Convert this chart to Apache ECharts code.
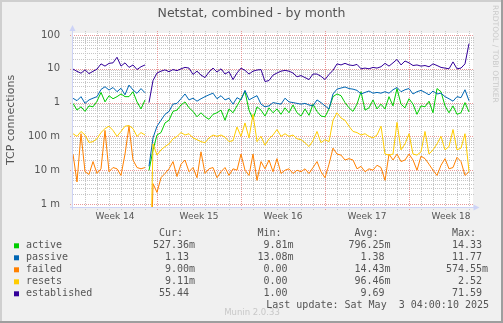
<!DOCTYPE html>
<html>
<head>
<meta charset="utf-8">
<title>Netstat, combined - by month</title>
<script src="https://cdn.jsdelivr.net/npm/echarts@6/dist/echarts.min.js"></script>
<style>
  html, body { margin: 0; padding: 0; background: #F0F0F0; }
  #chart { width: 503px; height: 323px; }
</style>
</head>
<body>
<div id="chart"></div>
<script>
// One sample every 8 hours, from the start of week 14 onwards.
const SAMPLE_HOURS = 8;
const OUTAGE_HOUR = 148;      // collection stopped for a few hours here
const HOURS_SHOWN = 800;

const activeValues = [
  0.95, 0.6, 0.75, 0.55, 0.8, 0.75, 1.1, 2.0, 1.05, 1.6, 1.3, 1.5, 1.8, 1.5, 1.5, 2.1, 1.05, 0.65, 1.2,
  0.0098, 0.04, 0.11, 0.13, 0.25, 0.3, 0.55, 0.6, 0.85, 1.05, 0.7, 0.55, 0.38,
  0.5, 0.38, 0.32, 0.45, 0.5, 0.6, 0.3, 0.65, 0.5, 0.8, 1.3, 2.1, 0.6, 0.32, 0.75, 0.6, 0.4,
  0.7, 0.5, 0.65, 0.45, 0.7, 0.5, 0.85, 0.5, 0.4, 0.65, 0.42, 0.9, 0.55, 0.4, 0.38, 0.65, 1.5,
  1.8, 1.6, 1.0, 0.7, 0.55, 0.9, 2.1, 0.6, 0.7, 1.2, 0.65, 0.9, 0.65, 1.5, 0.8, 2.6, 0.9,
  0.7, 1.3, 0.9, 0.45, 0.8, 0.75, 1.1, 0.5, 2.6, 2.1, 0.8, 0.5, 0.8, 0.45, 0.5, 1.0, 0.52736
];
const passiveValues = [
  1.34, 1.14, 1.5, 0.95, 1.2, 1.35, 1.5, 2.45, 2.95, 2.35, 2.8, 2.1, 2.65, 1.7, 3.3, 2.36, 1.88, 2.6, 1.95,
  0.01308, 0.09, 0.2, 0.3, 0.45, 0.55, 0.9, 0.95, 1.3, 1.8, 1.2, 1.35, 1.1, 1.3, 1.5,
  1.7, 1.9, 1.3, 1.6, 1.2, 1.35, 0.9, 1.4, 1.2, 2.3, 1.2, 1.4, 1.6, 0.9, 0.75, 0.8,
  1.0, 0.95, 0.9, 1.35, 1.05, 1.0, 0.95, 0.9, 0.95, 0.85, 0.8, 1.2, 1.0, 0.8, 0.65, 1.8,
  2.5, 2.7, 2.9, 2.6, 2.5, 2.3, 1.8, 2.0, 2.2, 1.9, 2.0, 1.9, 2.1, 1.9, 2.4, 2.8, 2.1,
  2.4, 2.6, 1.8, 2.1, 2.3, 2.0, 1.7, 2.2, 1.8, 1.9, 1.5, 1.3, 1.1, 1.5, 1.4, 2.4, 1.13
];
const failedValues = [
  0.03, 0.0045, 0.12, 0.009, 0.0075, 0.018, 0.008, 0.011, 0.15, 0.009, 0.012, 0.011, 0.007, 0.03, 0.2, 0.02, 0.012, 0.011, 0.012,
  0, 0.004, 0.0022, 0.006, 0.008, 0.011, 0.018, 0.0065, 0.015, 0.02, 0.009, 0.012, 0.006, 0.035, 0.008,
  0.011, 0.012, 0.006, 0.009, 0.012, 0.007, 0.011, 0.01, 0.03, 0.01, 0.007, 0.03, 0.005, 0.018, 0.011, 0.02,
  0.009, 0.022, 0.008, 0.01, 0.011, 0.008, 0.01, 0.009, 0.011, 0.008, 0.012, 0.018, 0.009, 0.006, 0.015, 0.045,
  0.03, 0.028, 0.02, 0.022, 0.02, 0.011, 0.013, 0.009, 0.011, 0.01, 0.014, 0.012, 0.005, 0.03, 0.02, 0.03, 0.018,
  0.02, 0.03, 0.02, 0.01, 0.026, 0.022, 0.015, 0.01, 0.007, 0.014, 0.022, 0.011, 0.012, 0.024, 0.018, 0.007, 0.009
];
const resetsValues = [
  0.12, 0.1, 0.14, 0.11, 0.066, 0.07, 0.085, 0.13, 0.17, 0.2, 0.15, 0.1, 0.14, 0.2, 0.21, 0.17, 0.1, 0.13, 0.11,
  0, 0.06, 0.028, 0.04, 0.05, 0.06, 0.085, 0.1, 0.13, 0.11, 0.12, 0.09, 0.08, 0.07, 0.065,
  0.09, 0.11, 0.1, 0.11, 0.095, 0.07, 0.075, 0.19, 0.1, 0.25, 0.09, 0.45, 0.07, 0.1, 0.055, 0.085,
  0.11, 0.16, 0.1, 0.12, 0.1, 0.11, 0.085, 0.08, 0.065, 0.05, 0.075, 0.14, 0.065, 0.08, 0.07, 0.3,
  0.5, 0.35, 0.3, 0.2, 0.14, 0.13, 0.11, 0.12, 0.1, 0.09, 0.11, 0.2, 0.03, 0.028, 0.03, 0.26, 0.04,
  0.06, 0.12, 0.03, 0.028, 0.035, 0.14, 0.03, 0.04, 0.06, 0.1, 0.04, 0.05, 0.16, 0.04, 0.045, 0.12, 0.00911
];
const establishedValues = [
  9.8, 8.4, 7.4, 9.3, 7.2, 8.4, 9.8, 14, 12, 14.5, 15, 22, 12, 15, 11, 13, 9.5, 11.5, 13,
  1.0, 4.5, 7.5, 8.5, 9.3, 8.2, 9.5, 8.8, 10, 11, 10.5, 6.8, 8.5, 6.5,
  5.5, 8, 10.5, 8, 10, 7, 8.2, 4.8, 7.5, 10.5, 9, 7, 8.5, 9.2, 9.5, 4.2,
  4.5, 6.5, 7.5, 8.5, 9, 8.5, 7.5, 5.8, 6.3, 5.5, 4.8, 7, 7, 6, 4.8, 6.8, 9,
  14, 13, 14.5, 13, 12.5, 13.5, 10, 10.5, 10, 11, 10.5, 11.5, 14.5, 12, 15, 19, 13,
  17, 15, 12.5, 13, 12, 12.5, 11.5, 14, 12.5, 11, 10.5, 10, 16, 10, 10.5, 14, 55.44
];

const weekLabels = ['Week 14', 'Week 15', 'Week 16', 'Week 17', 'Week 18'];
const yTickLabels = ['1 m', '10 m', '100 m', '1', '10', '100'];   // 1e-3 ... 1e2

const legendNames = ['active', 'passive', 'failed', 'resets', 'established'];
const statHeaders = ['Cur:', 'Min:', 'Avg:', 'Max:'];
const curValues = [0.52736, 1.13, 0.009, 0.00911, 55.44];
const minValues = [0.00981, 0.01308, 0, 0, 1.00];
const avgValues = [0.79625, 1.38, 0.01443, 0.09646, 9.69];
const maxValues = [14.33, 11.77, 0.57455, 2.52, 71.59];
const lastUpdate = 'Last update: Sat May  3 04:00:10 2025';

// ---- look ----
const seriesColors = ['#00CC00', '#0066B3', '#FF8000', '#FFCC00', '#330099'];
const TEXT = '#555555';
const SANS = 'DejaVu Sans';
const MONO = 'DejaVu Sans Mono';
const GRID_MINOR = '#C6C6C6';
const GRID_MAJOR = '#E89898';
const AXIS_BLUE = '#CDD3F6';

const PLOT = { left: 73, top: 33, width: 400, height: 174 };
// the 100 and 1 m lines sit 2 px / 3 px inside the canvas
const PAD_TOP = 2, PAD_BOTTOM = 3;
const pxPerDecade = (PLOT.height - PAD_TOP - PAD_BOTTOM) / 5;
const Y_MIN = 1e-3 / Math.pow(10, PAD_BOTTOM / pxPerDecade);
const Y_MAX = 100 * Math.pow(10, PAD_TOP / pxPerDecade);
const ZERO_DRAW = 1e-7;   // zeros fall below the log floor and get clipped

function toPoints(values) {
  const pts = values.map((v, i) => [i * SAMPLE_HOURS, v > 0 ? v : ZERO_DRAW]);
  const cut = pts.findIndex(p => p[0] > OUTAGE_HOUR);
  pts.splice(cut, 0, [OUTAGE_HOUR, null]);
  return pts;
}

// rrdtool style number: "%6.2lf%s"
function fmt(v) {
  let s;
  if (v === 0) s = '0.00 ';
  else if (v < 1) s = (v * 1000).toFixed(2) + 'm';
  else s = v.toFixed(2) + ' ';
  return s.padStart(7, ' ');
}

const isDecade = v => Math.abs(Math.log10(v) - Math.round(Math.log10(v))) < 1e-9;

// grid line values
const hGrid = [];
for (let e = -3; e <= 2; e++) {
  for (let m = 1; m <= 9; m++) {
    const v = m * Math.pow(10, e);
    if (v <= 100 + 1e-9) hGrid.push([0, v]);
  }
}
const vGrid = [];
for (let h = 24; h < HOURS_SHOWN; h += 24) vGrid.push([h, 1]);

const allValues = [activeValues, passiveValues, failedValues, resetsValues, establishedValues];

const lineSeries = legendNames.map((name, i) => ({
  type: 'line',
  name,
  data: toPoints(allValues[i]),
  showSymbol: false,
  symbol: 'none',
  connectNulls: false,
  clip: true,
  z: 3 + i,
  lineStyle: { width: 1, color: seriesColors[i] },
  itemStyle: { color: seriesColors[i] },
  emphasis: { disabled: true },
  silent: true
}));

const gridSeriesH = {
  type: 'custom',
  name: 'hgrid',
  z: 1,
  silent: true,
  clip: false,
  data: hGrid,
  renderItem(params, api) {
    const cs = params.coordSys;
    const v = api.value(1);
    const y = Math.round(api.coord([0, v])[1]) + 0.5;
    const major = isDecade(v);
    return {
      type: 'line',
      shape: { x1: cs.x - (major ? 3 : 0), y1: y, x2: cs.x + cs.width + 1, y2: y },
      style: { stroke: major ? GRID_MAJOR : GRID_MINOR, lineWidth: 1, lineDash: [1, 1] }
    };
  }
};

const gridSeriesV = {
  type: 'custom',
  name: 'vgrid',
  z: 1,
  silent: true,
  clip: false,
  data: vGrid,
  renderItem(params, api) {
    const cs = params.coordSys;
    const h = api.value(0);
    const x = Math.round(api.coord([h, 1])[0]) + 0.5;
    const major = h % 168 === 0;
    return {
      type: 'line',
      shape: { x1: x, y1: cs.y - 2, x2: x, y2: cs.y + cs.height + 3 },
      style: { stroke: major ? GRID_MAJOR : GRID_MINOR, lineWidth: 1, lineDash: [1, 1] }
    };
  }
};

// legend table
const ROW0 = 233.8, ROW_STEP = 12;
const COLS = [153, 251.5, 348.5, 446];
const legendGraphics = [];
statHeaders.forEach((t, c) => legendGraphics.push({
  type: 'text', x: COLS[c] + 6, y: ROW0,
  style: { text: t, font: `10px "${MONO}"`, fill: TEXT, verticalAlign: 'middle' }
}));
const stats = [curValues, minValues, avgValues, maxValues];
legendNames.forEach((name, i) => {
  const y = ROW0 + ROW_STEP * (i + 1);
  legendGraphics.push({ type: 'rect', shape: { x: 14, y: y - 2.5, width: 5, height: 5 }, style: { fill: seriesColors[i] } });
  legendGraphics.push({
    type: 'text', x: 26, y,
    style: { text: name, font: `10px "${MONO}"`, fill: TEXT, verticalAlign: 'middle' }
  });
  stats.forEach((arr, c) => legendGraphics.push({
    type: 'text', x: COLS[c], y,
    style: { text: fmt(arr[i]), font: `10px "${MONO}"`, fill: TEXT, verticalAlign: 'middle' }
  }));
});
legendGraphics.push({
  type: 'text', x: 489, y: ROW0 + ROW_STEP * 6,
  style: { text: lastUpdate, font: `10px "${MONO}"`, fill: TEXT, align: 'right', verticalAlign: 'middle' }
});

const frame = [
  { type: 'rect', shape: { x: 0, y: 0, width: 503, height: 2 }, style: { fill: '#CFCFCF' } },
  { type: 'rect', shape: { x: 0, y: 0, width: 2, height: 323 }, style: { fill: '#CFCFCF' } },
  { type: 'rect', shape: { x: 0, y: 321, width: 503, height: 2 }, style: { fill: '#9E9E9E' } },
  { type: 'rect', shape: { x: 501, y: 0, width: 2, height: 323 }, style: { fill: '#9E9E9E' } }
];

const axes = [
  { type: 'line', z: 20, shape: { x1: 72.5, y1: 29, x2: 72.5, y2: 210 }, style: { stroke: AXIS_BLUE, lineWidth: 1 } },
  { type: 'polygon', z: 20, shape: { points: [[72.5, 25], [69.5, 31], [75.5, 31]] }, style: { fill: AXIS_BLUE } },
  { type: 'line', z: 20, shape: { x1: 70, y1: 207.5, x2: 475, y2: 207.5 }, style: { stroke: AXIS_BLUE, lineWidth: 1 } },
  { type: 'polygon', z: 20, shape: { points: [[479.5, 207.5], [473.5, 204.5], [473.5, 210.5]] }, style: { fill: AXIS_BLUE } }
];

const texts = [
  { type: 'text', x: 251.5, y: 13.4,
    style: { text: 'Netstat, combined - by month', font: `12.5px "${SANS}"`, fill: TEXT, align: 'center', verticalAlign: 'middle' } },
  { type: 'text', x: 11.2, y: 120, rotation: Math.PI / 2,
    style: { text: 'TCP connections', font: `11px "${SANS}"`, fill: TEXT, align: 'center', verticalAlign: 'middle' } },
  { type: 'text', x: 494.6, y: 54, rotation: -Math.PI / 2,
    style: { text: 'RRDTOOL / TOBI OETIKER', font: `7.6px "${SANS}"`, fill: '#CACACA', align: 'center', verticalAlign: 'middle' } },
  { type: 'text', x: 252, y: 312.4,
    style: { text: 'Munin 2.0.33', font: `8.5px "${SANS}"`, fill: '#C8C8C8', align: 'center', verticalAlign: 'middle' } }
];

const weekLabelHours = weekLabels.map((_, k) => k * 168 + 84);

const chart = echarts.init(document.getElementById('chart'), null, { renderer: 'canvas' });
chart.setOption({
  animation: false,
  backgroundColor: '#F0F0F0',
  grid: {
    left: PLOT.left, top: PLOT.top, width: PLOT.width, height: PLOT.height,
    show: true, backgroundColor: '#FFFFFF', borderWidth: 0,
    containLabel: false, outerBoundsMode: 'none'
  },
  xAxis: {
    type: 'value', min: 0, max: HOURS_SHOWN,
    axisLine: { show: false }, axisTick: { show: false }, splitLine: { show: false },
    axisLabel: {
      customValues: weekLabelHours,
      formatter: v => weekLabels[weekLabelHours.indexOf(v)] || '',
      fontFamily: SANS, fontSize: 9, color: TEXT, margin: 4.5, lineHeight: 10,
      hideOverlap: false
    }
  },
  yAxis: {
    type: 'log', logBase: 10, min: Y_MIN, max: Y_MAX,
    axisLine: { show: false }, axisTick: { show: false }, splitLine: { show: false },
    axisLabel: {
      formatter: v => isDecade(v) ? yTickLabels[Math.round(Math.log10(v)) + 3] : '',
      fontFamily: SANS, fontSize: 10, color: TEXT, margin: 13,
      showMinLabel: true, showMaxLabel: true
    }
  },
  graphic: { elements: [...frame, ...axes, ...texts, ...legendGraphics] },
  series: [gridSeriesH, gridSeriesV, ...lineSeries]
});
</script>
</body>
</html>
